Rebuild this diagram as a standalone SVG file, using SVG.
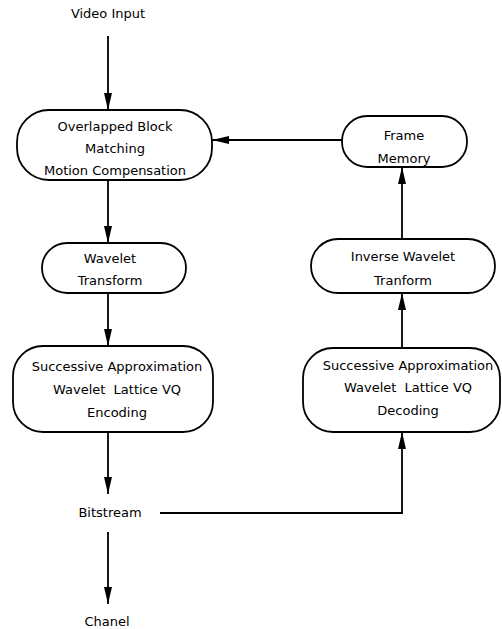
<svg xmlns="http://www.w3.org/2000/svg" width="502" height="629" viewBox="0 0 502 629">
<defs>
<marker id="arr" markerUnits="userSpaceOnUse" markerWidth="17" markerHeight="10" refX="17" refY="5" orient="auto">
<path d="M0,1 L17,5 L0,9 z" fill="#000"/>
</marker>
<style>
.box{fill:#fff;stroke:#000;stroke-width:1.8}
.t{font-family:"DejaVu Sans",sans-serif;font-size:13px;fill:#000;text-anchor:middle;white-space:pre}
.c{fill:none;stroke:#000;stroke-width:1.8;marker-end:url(#arr)}
</style>
</defs>
<rect width="502" height="629" fill="#fff"/>
<g id="connectors">
<line class="c" x1="108" y1="36" x2="108" y2="110"/>
<line class="c" x1="108" y1="180" x2="108" y2="243"/>
<line class="c" x1="108" y1="293" x2="108" y2="346"/>
<line class="c" x1="108" y1="432" x2="108" y2="494"/>
<line class="c" x1="108" y1="532" x2="108" y2="604"/>
<polyline class="c" points="160,513 402,513 402,432"/>
<line class="c" x1="402" y1="348" x2="402" y2="293"/>
<line class="c" x1="402" y1="239" x2="402" y2="167"/>
<line class="c" x1="342" y1="140" x2="212" y2="140"/>
</g>
<g id="video-input"><text class="t" x="108" y="18">Video Input</text></g>
<g id="obmc">
<rect class="box" x="17" y="110" width="195" height="70" rx="32" ry="32"/>
<text class="t" x="115" y="131">Overlapped Block</text>
<text class="t" x="115" y="153">Matching</text>
<text class="t" x="115" y="175">Motion Compensation</text>
</g>
<g id="frame-memory">
<rect class="box" x="342" y="116" width="125" height="51" rx="25" ry="25"/>
<text class="t" x="404" y="140">Frame</text>
<text class="t" x="404" y="163">Memory</text>
</g>
<g id="wavelet">
<rect class="box" x="42" y="243" width="144" height="50" rx="25" ry="25"/>
<text class="t" x="110" y="263">Wavelet</text>
<text class="t" x="110" y="285">Transform</text>
</g>
<g id="inverse-wavelet">
<rect class="box" x="311" y="239" width="184" height="54" rx="27" ry="27"/>
<text class="t" x="403" y="261">Inverse Wavelet</text>
<text class="t" x="403" y="285">Tranform</text>
</g>
<g id="encoding">
<rect class="box" x="13" y="346" width="200" height="86" rx="30" ry="30"/>
<text class="t" x="117" y="371">Successive Approximation</text>
<text class="t" x="117" y="394" xml:space="preserve">Wavelet  Lattice VQ</text>
<text class="t" x="117" y="417">Encoding</text>
</g>
<g id="decoding">
<rect class="box" x="303" y="348" width="197" height="84" rx="30" ry="30"/>
<text class="t" x="408" y="370">Successive Approximation</text>
<text class="t" x="408" y="392" xml:space="preserve">Wavelet  Lattice VQ</text>
<text class="t" x="408" y="415">Decoding</text>
</g>
<g id="bitstream"><text class="t" x="110" y="517">Bitstream</text></g>
<g id="chanel"><text class="t" x="107" y="626">Chanel</text></g>
</svg>
